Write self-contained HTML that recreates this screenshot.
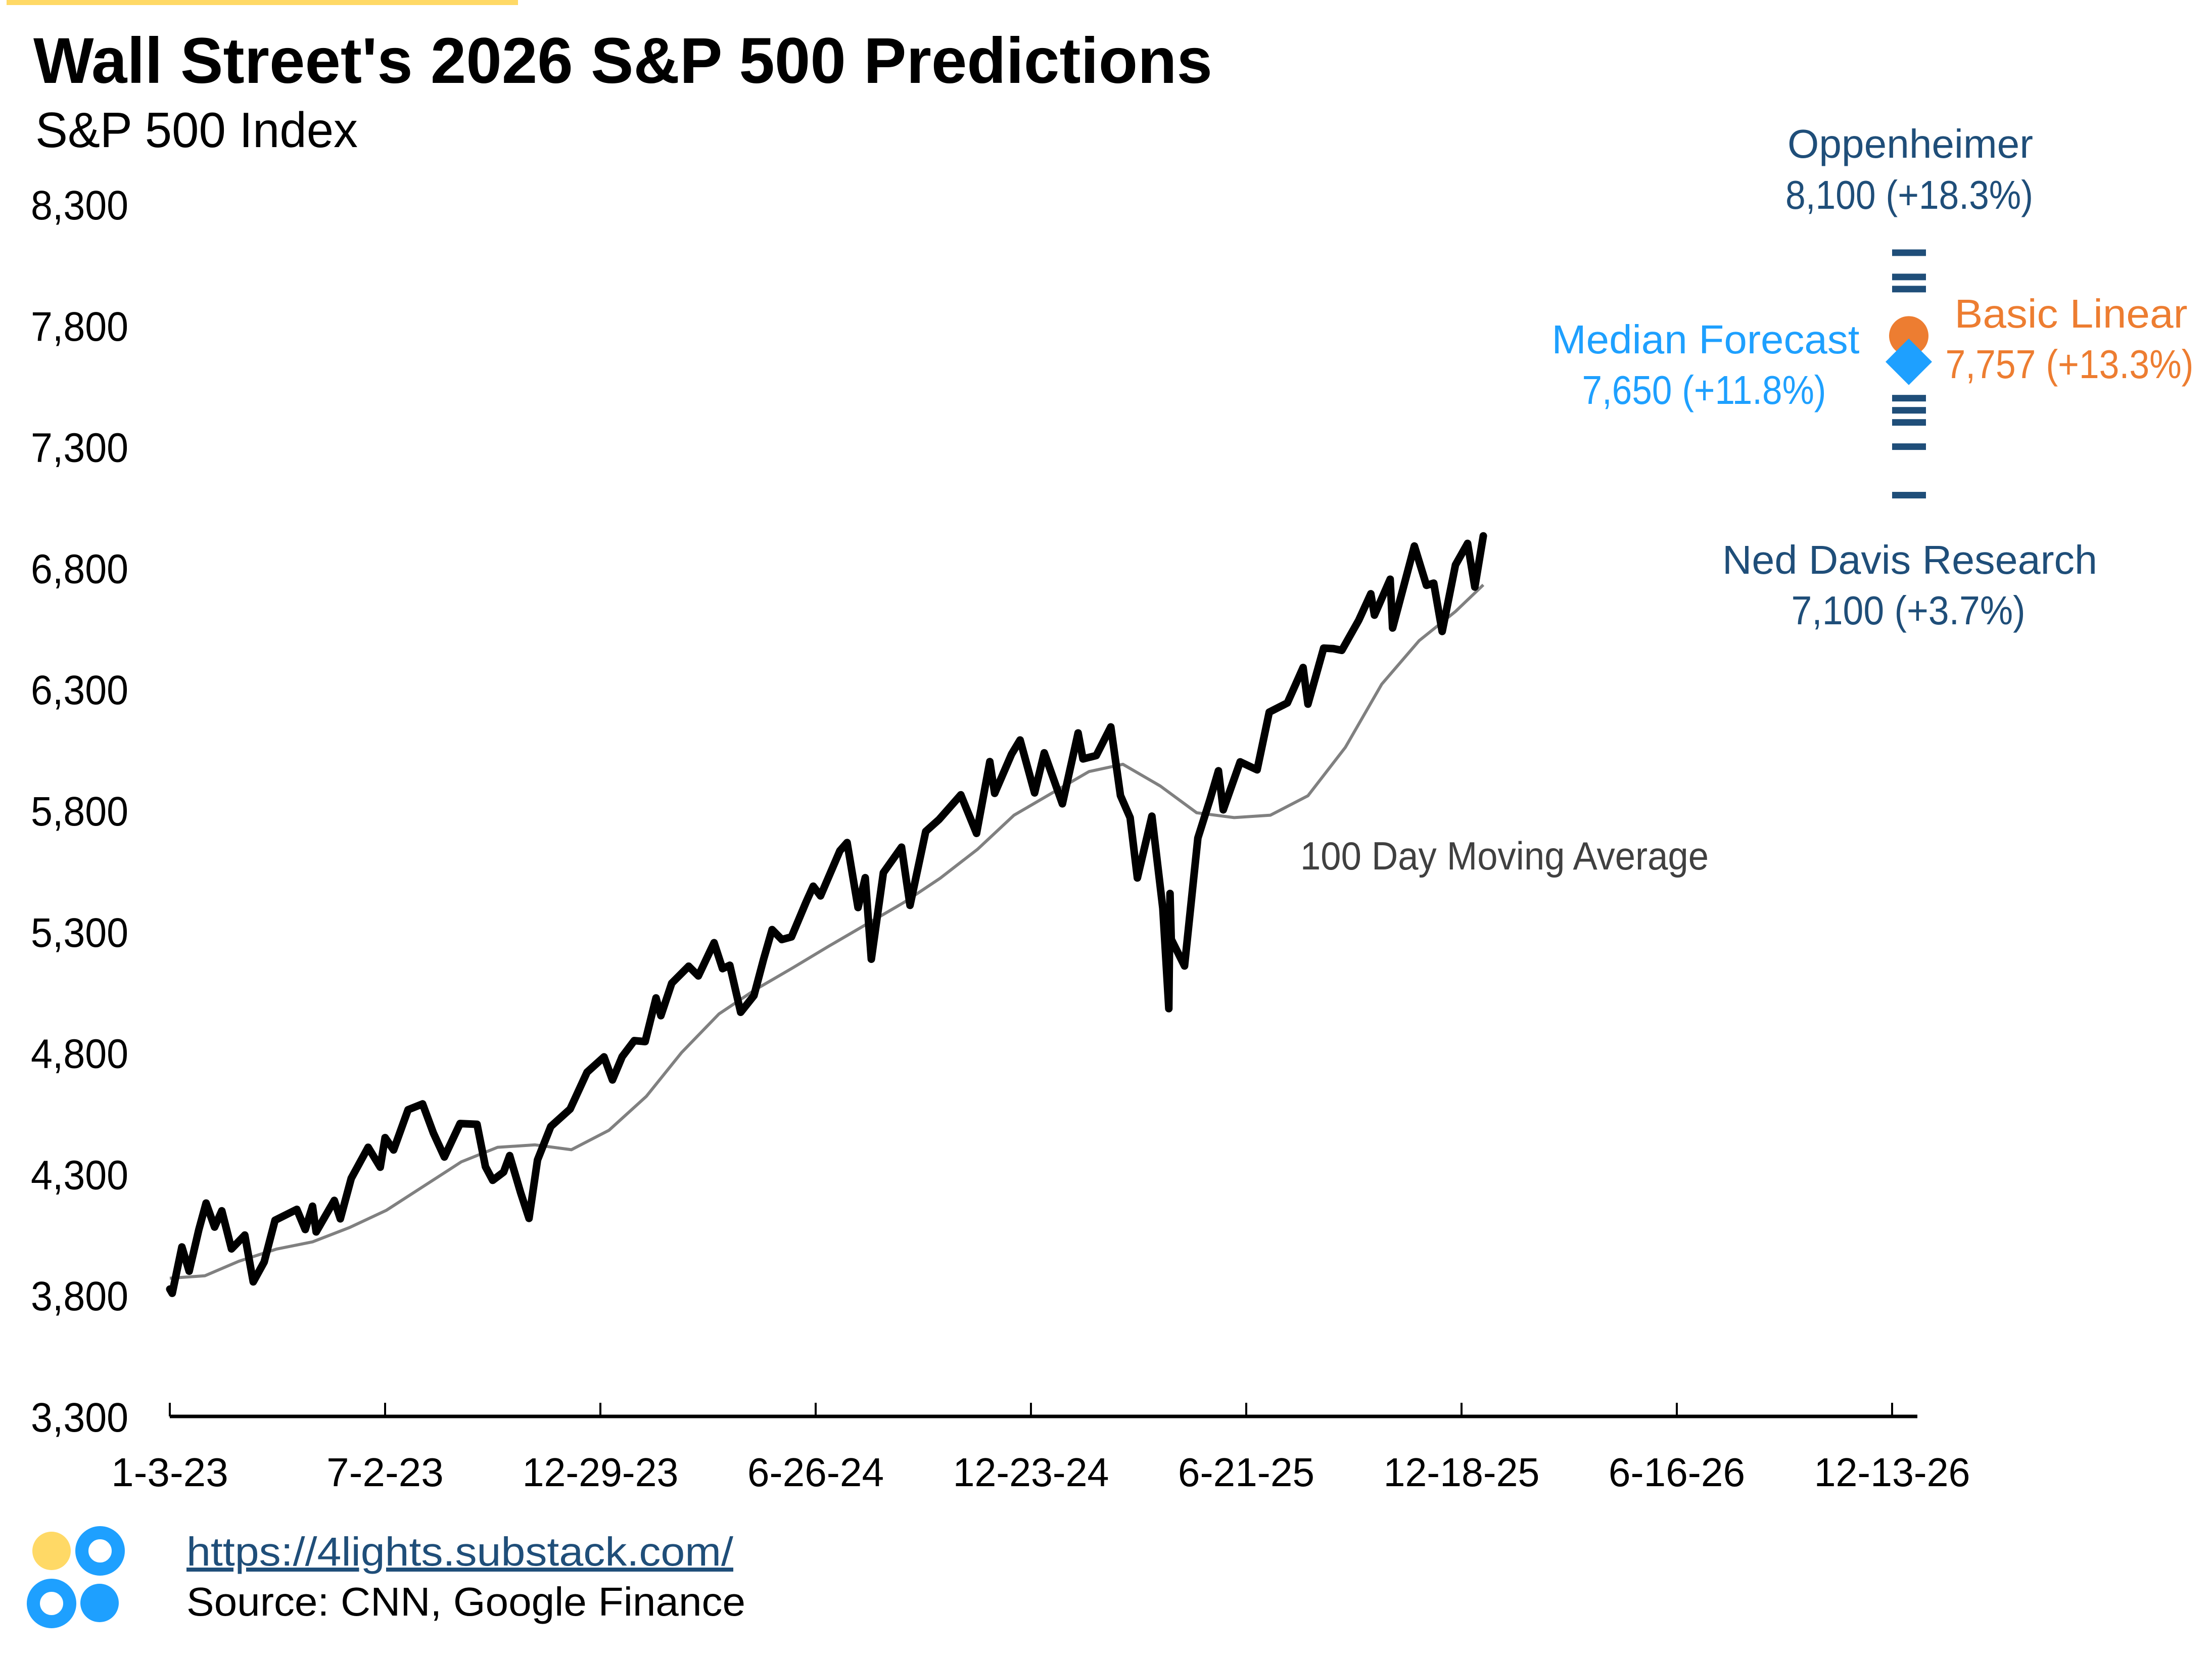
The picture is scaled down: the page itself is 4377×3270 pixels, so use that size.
<!DOCTYPE html>
<html><head><meta charset="utf-8">
<style>
html,body{margin:0;padding:0;background:#fff;}
svg{display:block;font-family:"Liberation Sans",sans-serif;}
</style></head>
<body>
<svg id="chart" width="4377" height="3270" viewBox="0 0 4377 3270" xmlns="http://www.w3.org/2000/svg">
<rect x="0" y="0" width="4377" height="3270" fill="#fff"/>
<rect x="13" y="0" width="1012" height="10" fill="#ffd966"/>
<text x="66" y="164" font-size="128" font-weight="bold" textLength="2333" lengthAdjust="spacingAndGlyphs">Wall Street's 2026 S&amp;P 500 Predictions</text>
<text x="70" y="291" font-size="98" textLength="638" lengthAdjust="spacingAndGlyphs">S&amp;P 500 Index</text>
<g id="yaxis"></g>
<g id="xaxis"></g>
<g id="series"></g>
<g id="forecasts"></g>
<text x="2573" y="1720" font-size="78" fill="#404040" textLength="808" lengthAdjust="spacingAndGlyphs">100 Day Moving Average</text>
<g fill="#1f4e79" font-size="80" text-anchor="middle">
<text x="3780" y="312" textLength="486" lengthAdjust="spacingAndGlyphs">Oppenheimer</text>
<text x="3778" y="413" textLength="490" lengthAdjust="spacingAndGlyphs">8,100 (+18.3%)</text>
</g>
<g fill="#1ea0ff" font-size="80" text-anchor="middle">
<text x="3375" y="699" textLength="609" lengthAdjust="spacingAndGlyphs">Median Forecast</text>
<text x="3372" y="799" textLength="483" lengthAdjust="spacingAndGlyphs">7,650 (+11.8%)</text>
</g>
<g fill="#ed7d31" font-size="80" text-anchor="middle">
<text x="4098" y="648" textLength="461" lengthAdjust="spacingAndGlyphs">Basic Linear</text>
<text x="4095" y="748" textLength="491" lengthAdjust="spacingAndGlyphs">7,757 (+13.3%)</text>
</g>
<g fill="#1f4e79" font-size="80" text-anchor="middle">
<text x="3779" y="1135" textLength="742" lengthAdjust="spacingAndGlyphs">Ned Davis Research</text>
<text x="3776" y="1235" textLength="463" lengthAdjust="spacingAndGlyphs">7,100 (+3.7%)</text>
</g>
<g>
<circle cx="102" cy="3068" r="38" fill="#ffd966"/>
<circle cx="198" cy="3068" r="36" fill="none" stroke="#1ea0ff" stroke-width="26"/>
<circle cx="102" cy="3172" r="36" fill="none" stroke="#1ea0ff" stroke-width="26"/>
<circle cx="197" cy="3171" r="38" fill="#1ea0ff"/>
</g>
<text x="369" y="3097" font-size="80" fill="#1f4e79" text-decoration="underline" textLength="1082" lengthAdjust="spacingAndGlyphs">https://4lights.substack.com/</text>
<text x="369" y="3196" font-size="80" fill="#000" textLength="1106" lengthAdjust="spacingAndGlyphs">Source:  CNN, Google Finance</text>
</svg>
<script>
const priceDates = ["2023-01-03","2023-01-05","2023-01-13","2023-01-19","2023-01-27","2023-02-02","2023-02-09","2023-02-15","2023-02-23","2023-03-06","2023-03-13","2023-03-22","2023-03-31","2023-04-18","2023-04-25","2023-05-01","2023-05-04","2023-05-19","2023-05-24","2023-06-02","2023-06-16","2023-06-26","2023-06-30","2023-07-07","2023-07-19","2023-07-31","2023-08-09","2023-08-18","2023-08-31","2023-09-14","2023-09-21","2023-09-27","2023-10-06","2023-10-11","2023-10-20","2023-10-27","2023-11-03","2023-11-14","2023-11-30","2023-12-14","2023-12-28","2024-01-04","2024-01-12","2024-01-22","2024-01-31","2024-02-09","2024-02-13","2024-02-22","2024-03-07","2024-03-15","2024-03-28","2024-04-04","2024-04-10","2024-04-19","2024-04-30","2024-05-08","2024-05-15","2024-05-23","2024-05-31","2024-06-12","2024-06-18","2024-06-24","2024-07-10","2024-07-16","2024-07-25","2024-07-31","2024-08-05","2024-08-15","2024-08-30","2024-09-06","2024-09-19","2024-09-30","2024-10-18","2024-10-31","2024-11-11","2024-11-15","2024-11-29","2024-12-06","2024-12-18","2024-12-26","2025-01-10","2025-01-23","2025-01-27","2025-02-07","2025-02-19","2025-02-27","2025-03-07","2025-03-13","2025-03-25","2025-04-03","2025-04-08","2025-04-09","2025-04-10","2025-04-21","2025-05-02","2025-05-12","2025-05-19","2025-05-23","2025-06-06","2025-06-20","2025-06-30","2025-07-15","2025-07-28","2025-08-01","2025-08-14","2025-08-22","2025-08-29","2025-09-12","2025-09-22","2025-09-25","2025-10-08","2025-10-10","2025-10-28","2025-11-07","2025-11-13","2025-11-20","2025-12-01","2025-12-11","2025-12-17","2025-12-24"];
const priceValues = [3825,3808,3999,3899,4070,4180,4081,4148,3991,4048,3855,3937,4109,4154,4071,4167,4061,4191,4115,4282,4410,4328,4450,4399,4565,4589,4468,4370,4508,4505,4330,4274,4308,4376,4224,4117,4358,4496,4568,4720,4783,4688,4784,4850,4846,5026,4953,5087,5157,5117,5254,5147,5161,4967,5036,5187,5308,5267,5278,5421,5487,5447,5633,5667,5399,5522,5186,5543,5648,5408,5713,5762,5864,5705,6001,5870,6032,6090,5872,6037,5827,6119,6012,6026,6144,5861,5770,5521,5776,5396,4982,5457,5268,5158,5686,5844,5963,5802,6000,5967,6205,6243,6389,6238,6469,6467,6460,6584,6693,6605,6753,6552,6890,6728,6737,6538,6812,6901,6721,6932];
const maDates = ["2023-01-03","2023-02-01","2023-03-01","2023-04-01","2023-05-01","2023-06-01","2023-07-01","2023-08-01","2023-09-01","2023-10-01","2023-11-01","2023-12-01","2024-01-01","2024-02-01","2024-03-01","2024-04-01","2024-05-01","2024-06-01","2024-07-01","2024-08-01","2024-09-01","2024-10-01","2024-11-01","2024-12-01","2025-01-01","2025-02-01","2025-03-01","2025-04-01","2025-05-01","2025-06-01","2025-07-01","2025-08-01","2025-09-01","2025-10-01","2025-11-01","2025-12-01","2025-12-24"];
const maValues = [3870,3880,3940,3990,4020,4080,4150,4250,4350,4410,4420,4400,4480,4620,4800,4960,5060,5150,5240,5330,5420,5520,5640,5780,5870,5960,5990,5900,5790,5770,5780,5860,6060,6320,6500,6620,6730];
const forecastDashValues = [8100,8000,7950,7500,7450,7400,7300,7100];
const basicLinearValue = [7757];
const medianValue = [7650];
const yTickValues = [3300,3800,4300,4800,5300,5800,6300,6800,7300,7800,8300];
const yTickLabels = ["3,300","3,800","4,300","4,800","5,300","5,800","6,300","6,800","7,300","7,800","8,300"];
const xTickLabels = ["1-3-23","7-2-23","12-29-23","6-26-24","12-23-24","6-21-25","12-18-25","6-16-26","12-13-26"];

const NS = "http://www.w3.org/2000/svg";
const origin = Date.UTC(2023,0,3);
function dayOf(s){const p=s.split("-");return (Date.UTC(+p[0],+p[1]-1,+p[2])-origin)/86400000;}
function xScale(day){return 336 + day*426/178;}
function yScale(v){return 2802 - (v-3300)*(2398/5000);}
function mk(tag, attrs, parent){const e=document.createElementNS(NS,tag);for(const k in attrs)e.setAttribute(k,attrs[k]);parent.appendChild(e);return e;}

const yaxis=document.getElementById("yaxis");
yTickValues.forEach((v,i)=>{
  const t=mk("text",{x:254,y:yScale(v)+30,"font-size":82,"text-anchor":"end",textLength:yTickLabels[i].length*38.6,lengthAdjust:"spacingAndGlyphs"},yaxis);
  
  
  t.textContent=yTickLabels[i];
});

const xaxis=document.getElementById("xaxis");
const axisLine=mk("line",{x1:336,y1:2802,x2:3794,y2:2802,stroke:"#000","stroke-width":7},xaxis);


xTickLabels.forEach((lab,i)=>{
  const x=xScale(i*178);
  const tk=mk("line",{x1:x,y1:2775,x2:x,y2:2802,stroke:"#000","stroke-width":4},xaxis);
  
  
  const t=mk("text",{x:x,y:2940,"font-size":80,"text-anchor":"middle",textLength:lab.length*38.6,lengthAdjust:"spacingAndGlyphs"},xaxis);
  
  
  t.textContent=lab;
});

const series=document.getElementById("series");
const maPts=maDates.map((d,i)=>xScale(dayOf(d)).toFixed(1)+","+yScale(maValues[i]).toFixed(1)).join(" ");
const ma=mk("polyline",{points:maPts,fill:"none",stroke:"#808080","stroke-width":6,"stroke-linejoin":"round"},series);


const pPts=priceDates.map((d,i)=>xScale(dayOf(d)).toFixed(1)+","+yScale(priceValues[i]).toFixed(1)).join(" ");
const pl=mk("polyline",{points:pPts,fill:"none",stroke:"#000","stroke-width":15,"stroke-linejoin":"round","stroke-linecap":"round"},series);



const fc=document.getElementById("forecasts");
const fx=3777;
forecastDashValues.forEach(v=>{
  const r=mk("rect",{x:fx-33,y:yScale(v)-6.5,width:67,height:13,fill:"#1f4e79"},fc);
  
  
});
basicLinearValue.forEach(v=>{
  const c=mk("circle",{cx:fx,cy:yScale(v),r:39,fill:"#ed7d31"},fc);
  
  
});
medianValue.forEach(v=>{
  const cy=yScale(v);
  const p=mk("polygon",{points:`${fx},${cy-46} ${fx+46},${cy} ${fx},${cy+46} ${fx-46},${cy}`,fill:"#1ea0ff"},fc);
  
  
});
</script>
</body></html>
